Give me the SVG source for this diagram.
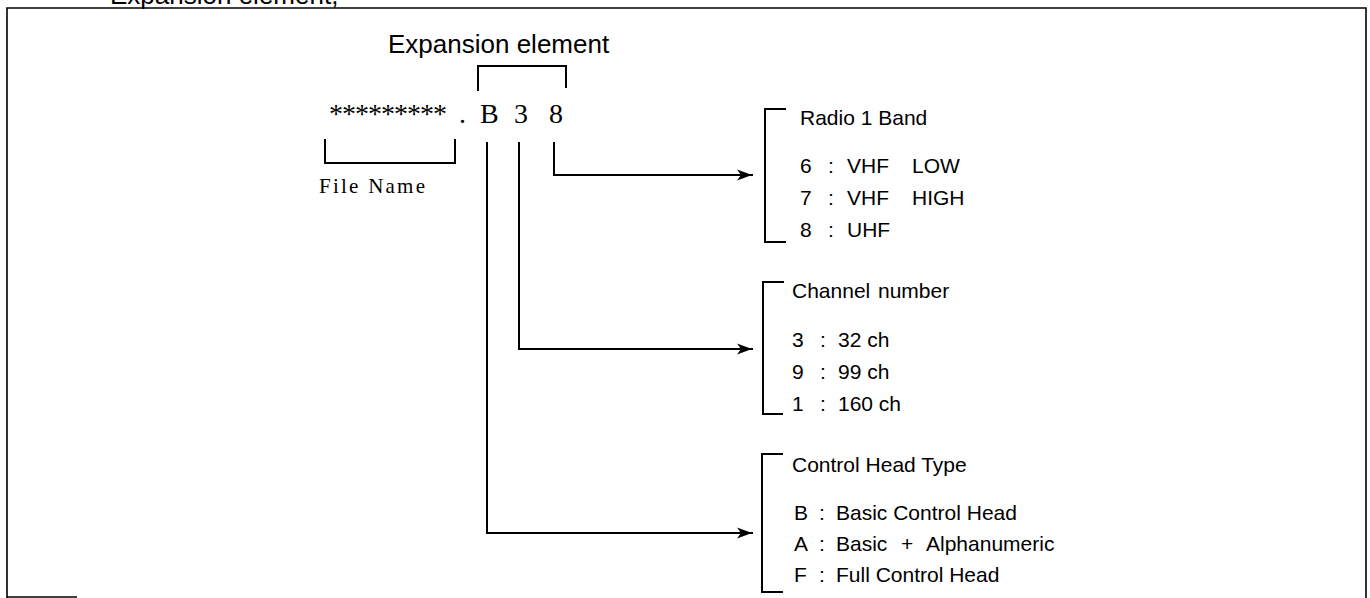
<svg xmlns="http://www.w3.org/2000/svg" width="1370" height="598" viewBox="0 0 1370 598">
<defs>
<style>
.ln{fill:none;stroke:#000;stroke-width:2;stroke-linecap:square}
.fr{fill:none;stroke:#000;stroke-width:1.6}
.s{font-family:"Liberation Sans",Arial,sans-serif;font-size:21px;fill:#000}
.big{font-family:"Liberation Sans",Arial,sans-serif;font-size:26px;fill:#000}
.sr{font-family:"Liberation Serif","Times New Roman",serif;font-size:28px;fill:#000}
.fn{font-family:"Liberation Serif","Times New Roman",serif;font-size:21px;fill:#000}
</style>
<marker id="arr" markerUnits="userSpaceOnUse" markerWidth="16" markerHeight="12" refX="15" refY="6" orient="auto">
<path d="M0,0.5 L15,6 L0,11.5 L4,6 z" fill="#000"/>
</marker>
</defs>
<rect width="1370" height="598" fill="#fff"/>

<g id="frame">
<text class="big" x="110" y="4">Expansion element,</text>
<path class="fr" d="M7 598 V8 H1366 V598"/>
<path class="fr" d="M7 597 H77"/>
</g>

<g id="filename">
<text class="sr" x="329" y="123" textLength="118">*********</text>
<path class="ln" d="M325 140 V163 H455 V140"/>
<text class="fn" x="319" y="193" textLength="106">File Name</text>
</g>

<g id="extension">
<text class="big" x="388" y="53">Expansion element</text>
<path class="ln" d="M478 90 V66 H566 V87"/>
<text class="sr" x="459" y="123">.</text>
<text class="sr" x="480" y="123">B</text>
<text class="sr" x="514" y="123">3</text>
<text class="sr" x="549" y="123">8</text>
</g>

<g id="connectors">
<path class="ln" d="M554 143 V175 H752" marker-end="url(#arr)"/>
<path class="ln" d="M519 143 V349 H752" marker-end="url(#arr)"/>
<path class="ln" d="M487 143 V533 H752" marker-end="url(#arr)"/>
</g>

<g id="radio-band">
<path class="ln" d="M785 109 H765 V242 H785"/>
<text class="s" x="800" y="125">Radio 1 Band</text>
<text class="s" y="173"><tspan x="800">6</tspan><tspan x="828">:</tspan><tspan x="847">VHF</tspan><tspan x="912">LOW</tspan></text>
<text class="s" y="205"><tspan x="800">7</tspan><tspan x="828">:</tspan><tspan x="847">VHF</tspan><tspan x="912">HIGH</tspan></text>
<text class="s" y="237"><tspan x="800">8</tspan><tspan x="828">:</tspan><tspan x="847">UHF</tspan></text>
</g>

<g id="channel-number">
<path class="ln" d="M783 282 H763 V414 H782"/>
<text class="s" x="792" y="298">Channel<tspan x="878">number</tspan></text>
<text class="s" y="347"><tspan x="792">3</tspan><tspan x="820">:</tspan><tspan x="838">32 ch</tspan></text>
<text class="s" y="379"><tspan x="792">9</tspan><tspan x="820">:</tspan><tspan x="838">99 ch</tspan></text>
<text class="s" y="411"><tspan x="792">1</tspan><tspan x="820">:</tspan><tspan x="838">160 ch</tspan></text>
</g>

<g id="control-head">
<path class="ln" d="M782 454 H762 V592 H782"/>
<text class="s" x="792" y="472">Control Head Type</text>
<text class="s" y="520"><tspan x="794">B</tspan><tspan x="819">:</tspan><tspan x="836">Basic Control Head</tspan></text>
<text class="s" y="551"><tspan x="794">A</tspan><tspan x="819">:</tspan><tspan x="836">Basic</tspan><tspan x="901">+</tspan><tspan x="926">Alphanumeric</tspan></text>
<text class="s" y="582"><tspan x="794">F</tspan><tspan x="819">:</tspan><tspan x="836">Full Control Head</tspan></text>
</g>
</svg>
